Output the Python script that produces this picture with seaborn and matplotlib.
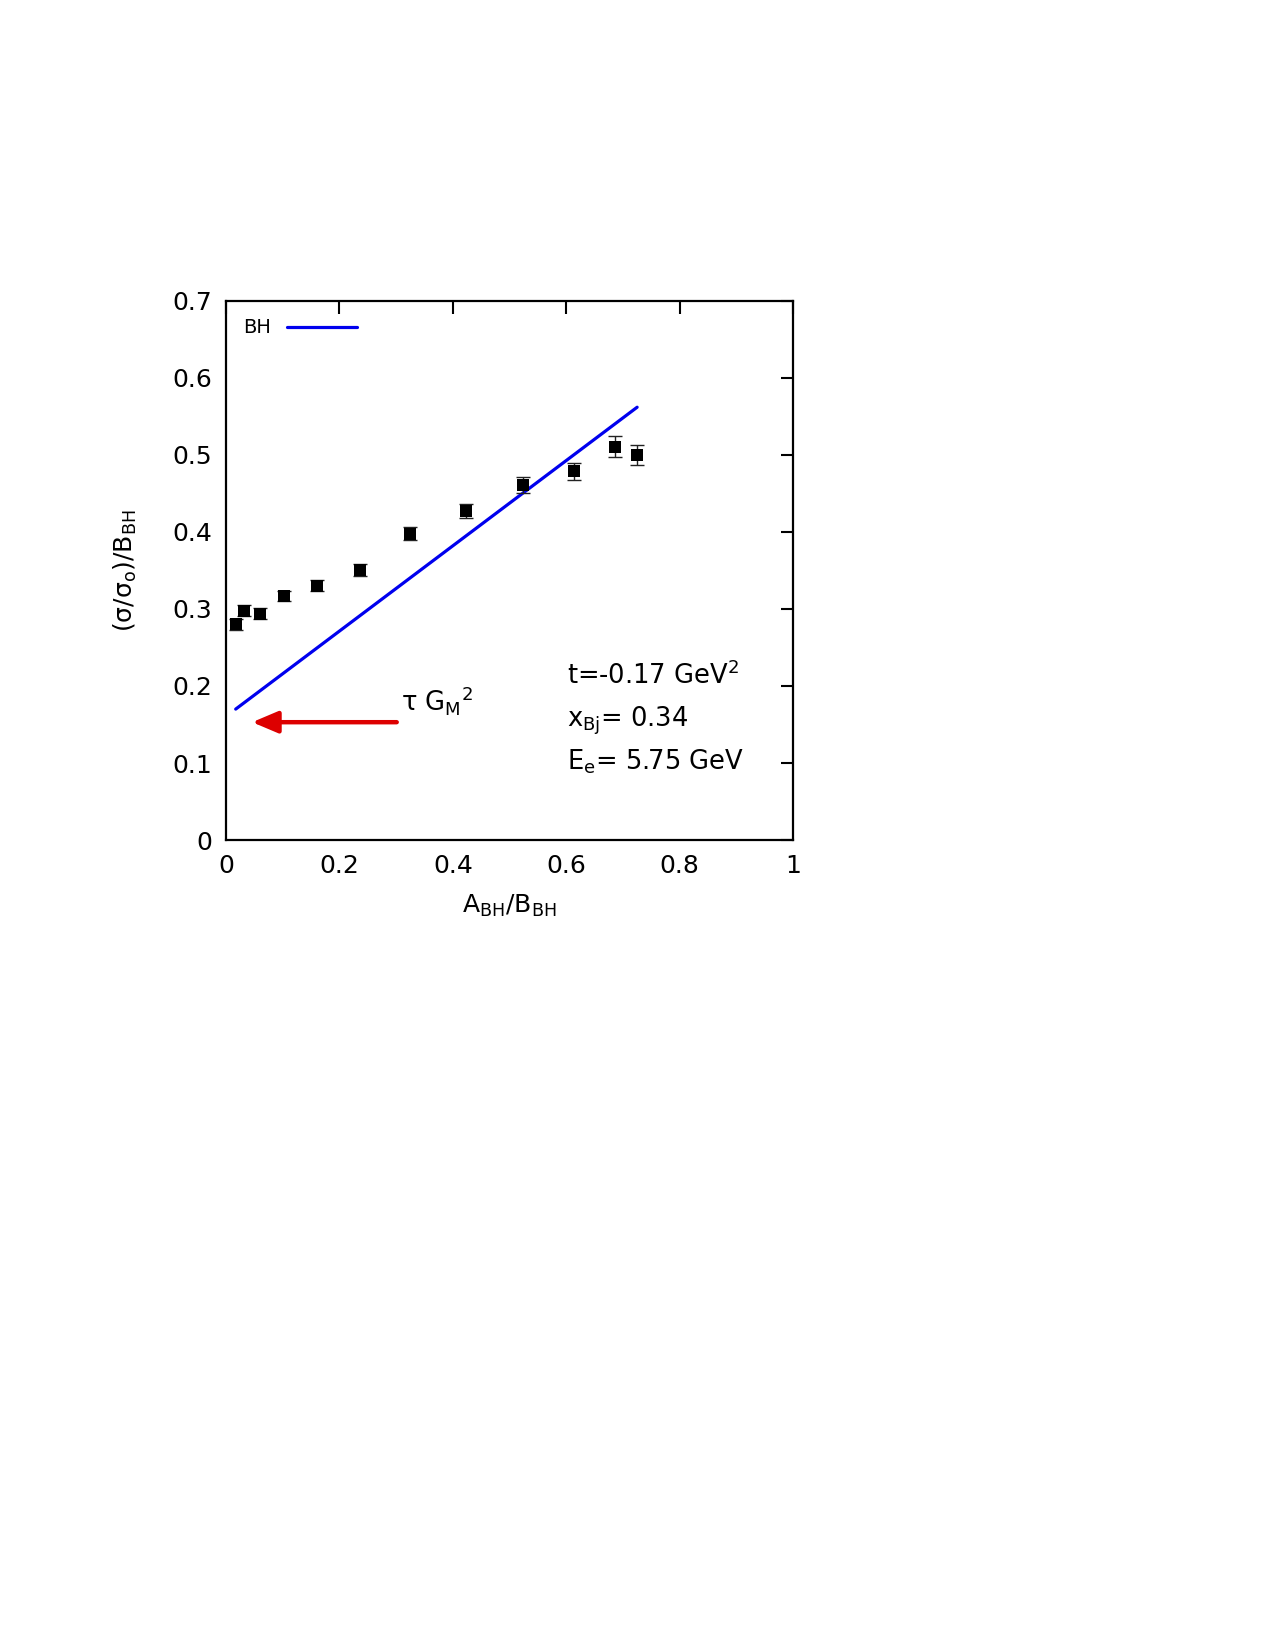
import matplotlib
matplotlib.use("Agg")
import matplotlib.pyplot as plt
import seaborn as sns
import numpy as np
import pandas as pd

# Data
x_data = [0.017, 0.032, 0.059, 0.102, 0.161, 0.236, 0.325, 0.423, 0.523, 0.614, 0.686, 0.724]
y_data = [0.280, 0.298, 0.294, 0.317, 0.330, 0.351, 0.398, 0.427, 0.461, 0.479, 0.511, 0.500]
y_err  = [0.007, 0.007, 0.007, 0.007, 0.007, 0.008, 0.008, 0.009, 0.010, 0.011, 0.013, 0.013]
bh_x = [0.017, 0.725]
bh_y = [0.170, 0.562]
arrow_x = [0.301, 0.046]
arrow_y = [0.153, 0.153]
xticks = [0, 0.2, 0.4, 0.6, 0.8, 1]
yticks = [0, 0.1, 0.2, 0.3, 0.4, 0.5, 0.6, 0.7]

sns.set_theme(style="white")
plt.rcParams['font.family'] = ['DejaVu Sans']
plt.rcParams['mathtext.fontset'] = 'dejavusans'
for k in ['text.color', 'axes.labelcolor', 'xtick.color', 'ytick.color']:
    plt.rcParams[k] = 'black'

fig = plt.figure(figsize=(12.75, 16.5), dpi=100)
ax = fig.add_axes([0.1773, 0.4909, 0.6220 - 0.1773, 0.8176 - 0.4909])

df = pd.DataFrame({"x": x_data, "y": y_data, "err": y_err})
bh = pd.DataFrame({"x": bh_x, "y": bh_y})

sns.lineplot(data=bh, x="x", y="y", ax=ax, color="#0000ee", lw=2.3, label="BH")
ax.errorbar(df["x"], df["y"], yerr=df["err"], fmt="none", ecolor="#222222",
            elinewidth=1.0, capsize=5, capthick=1.0, zorder=3)
sns.scatterplot(data=df, x="x", y="y", ax=ax, marker="s", s=85, color="black",
                edgecolor="black", linewidth=0, zorder=4)

ax.annotate("", xy=(arrow_x[1], arrow_y[1]), xytext=(arrow_x[0], arrow_y[0]),
            arrowprops=dict(arrowstyle="-|>,head_length=1.3,head_width=0.55",
                            color="#dd0000", lw=3.2, shrinkA=0, shrinkB=0))
fs = 18.5
ax.text(0.308, 0.168, r"τ G$_{\mathregular{M}}$$^{\mathregular{2}}$", fontsize=fs)

ax.text(0.601, 0.203, r"t=-0.17 GeV$^{\mathregular{2}}$", fontsize=fs)
ax.text(0.601, 0.148, r"x$_{\mathregular{Bj}}$= 0.34", fontsize=fs)
ax.text(0.601, 0.092, r"E$_{\mathregular{e}}$= 5.75 GeV", fontsize=fs)

ax.set_xlim(0, 1)
ax.set_ylim(0, 0.7)
ax.set_xticks(xticks)
ax.set_yticks(yticks)
ax.set_xticklabels(["0", "0.2", "0.4", "0.6", "0.8", "1"])
ax.set_yticklabels(["0", "0.1", "0.2", "0.3", "0.4", "0.5", "0.6", "0.7"])
ax.tick_params(direction="in", length=9, width=1.5, top=True, right=True,
               labelsize=18, pad=10, color="black")
for s in ax.spines.values():
    s.set_color("black")
    s.set_linewidth(1.6)

ax.set_xlabel(r"A$_{\mathregular{BH}}$/B$_{\mathregular{BH}}$", fontsize=18, labelpad=11)
ax.set_ylabel(r"(σ/σ$_{\mathregular{o}}$)/B$_{\mathregular{BH}}$", fontsize=18, labelpad=24)

leg = ax.legend(loc="upper left", frameon=False, fontsize=14, markerfirst=False,
                handlelength=3.6, borderaxespad=0.5, handletextpad=0.8)

fig.savefig("out.png", dpi=100, facecolor="white")
